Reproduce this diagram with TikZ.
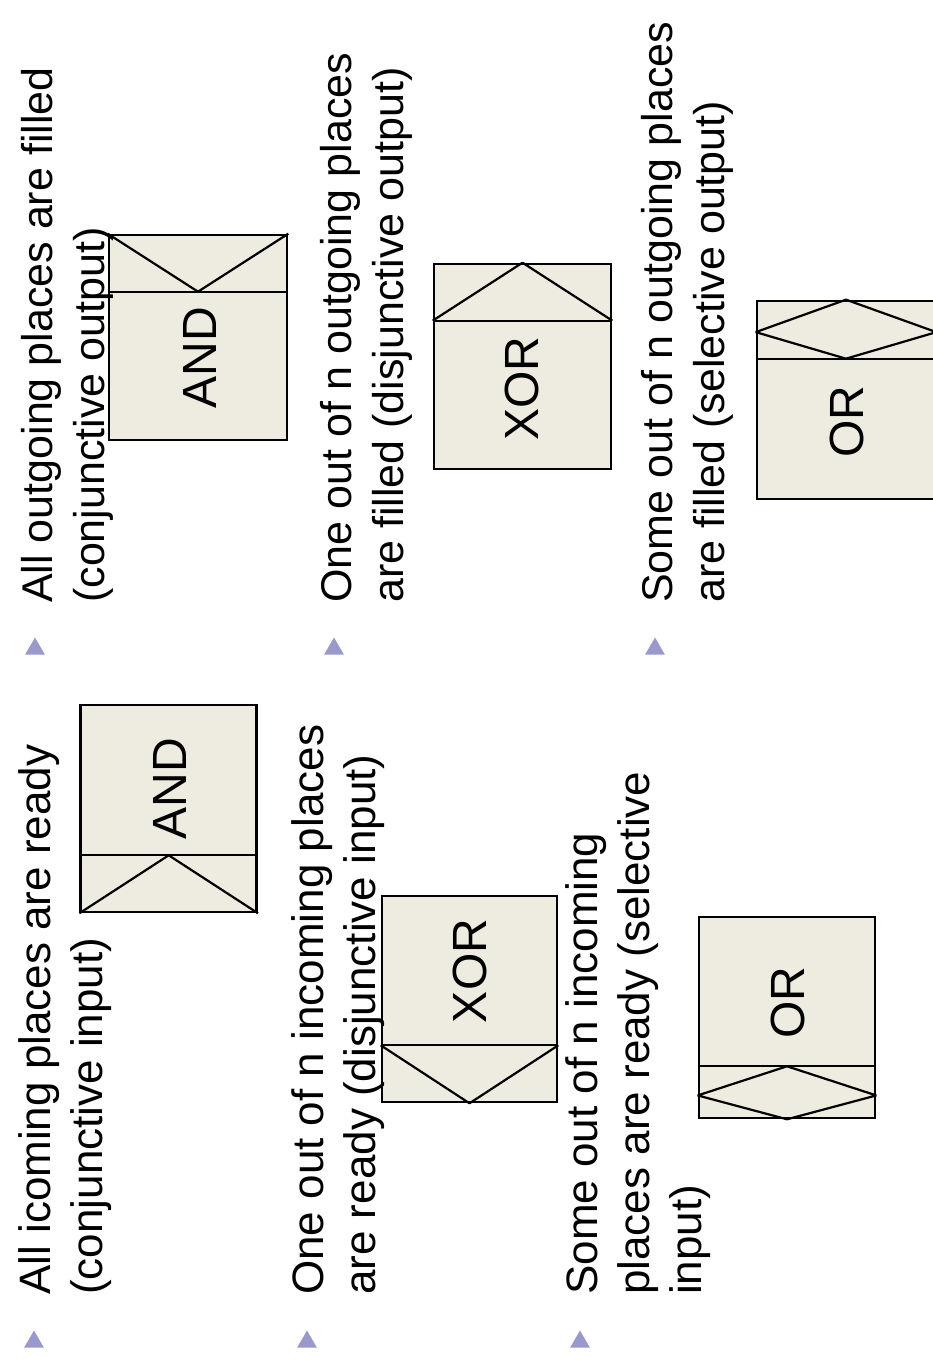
\documentclass[tikz,border=0pt]{standalone}
\usepackage{fontspec}
\setmainfont{Liberation Sans}
\usepackage{tikz}
\usetikzlibrary{positioning, calc, shapes.geometric}

\definecolor{gatefill}{RGB}{238,236,225}
\definecolor{bulletblue}{RGB}{153,153,204}

\begin{document}
\begin{tikzpicture}[
  x=1pt, y=1pt,
  gate/.style={draw, fill=gatefill, line width=2.6pt, minimum width=176pt,
    minimum height=205pt, inner sep=0pt},
  gatelbl/.style={rotate=90, inner sep=0pt, font=\fontsize{48}{58}\selectfont},
  sym/.style={line width=2.2pt, line join=bevel},
  txt/.style={rotate=90, anchor=north west, align=left, inner sep=0pt,
    font=\fontsize{44}{52}\selectfont},
  txtout/.style={txt, font=\fontsize{43}{52}\selectfont},
  bul/.style={regular polygon, regular polygon sides=3, fill=bulletblue,
    minimum size=23pt, inner sep=0pt},
]
  \path[use as bounding box, fill=white] (0,0) rectangle (933,1359);

  % Split/join boxes on the input side
  \node[gate, minimum height=207pt] (in-and) at (168.7,550.5) {};
  \coordinate (in-and-l) at ($(in-and.south west)+(0,58)$);
  \coordinate (in-and-r) at ($(in-and.south east)+(0,58)$);
  \draw[sym] (in-and-l) -- (in-and-r);
  \draw[sym] (in-and.south west) -- ($(in-and-l)!0.5!(in-and-r)$) -- (in-and.south east);
  \node[gatelbl] (in-and-lbl) at (170,570) {AND};

  \node[gate, minimum width=175pt, minimum height=206pt] (in-xor) at (469.5,360) {};
  \coordinate (in-xor-l) at ($(in-xor.south west)+(0,58)$);
  \coordinate (in-xor-r) at ($(in-xor.south east)+(0,58)$);
  \draw[sym] (in-xor-l) -- (in-xor-r);
  \draw[sym] (in-xor-l) -- (in-xor.south) -- (in-xor-r);
  \node[gatelbl] (in-xor-lbl) at (470,388) {XOR};

  \node[gate, minimum height=201pt] (in-or) at (787,341.5) {};
  \coordinate (in-or-l) at ($(in-or.south west)+(0,53)$);
  \coordinate (in-or-r) at ($(in-or.south east)+(0,53)$);
  \draw[sym] (in-or-l) -- (in-or-r);
  \draw[sym] ($(in-or-l)!0.5!(in-or-r)$) -- ($(in-or-l)!0.55!(in-or.south west)$)
    -- (in-or.south) -- ($(in-or-r)!0.55!(in-or.south east)$) -- cycle;
  \node[gatelbl] (in-or-lbl) at (788,356) {OR};

  % Split/join boxes on the output side
  \node[gate, minimum width=178pt] (out-and) at (198,1021.5) {};
  \coordinate (out-and-l) at ($(out-and.north west)+(0,-58)$);
  \coordinate (out-and-r) at ($(out-and.north east)+(0,-58)$);
  \draw[sym] (out-and-l) -- (out-and-r);
  \draw[sym] (out-and.north west) -- ($(out-and-l)!0.5!(out-and-r)$) -- (out-and.north east);
  \node[gatelbl] (out-and-lbl) at (200,1001) {AND};

  \node[gate, minimum width=177pt] (out-xor) at (522.5,992.5) {};
  \coordinate (out-xor-l) at ($(out-xor.north west)+(0,-58)$);
  \coordinate (out-xor-r) at ($(out-xor.north east)+(0,-58)$);
  \draw[sym] (out-xor-l) -- (out-xor-r);
  \draw[sym] (out-xor-l) -- (out-xor.north) -- (out-xor-r);
  \node[gatelbl] (out-xor-lbl) at (522,970) {XOR};

  \node[gate, minimum width=178pt, minimum height=198pt] (out-or) at (846,959) {};
  \coordinate (out-or-l) at ($(out-or.north west)+(0,-59)$);
  \coordinate (out-or-r) at ($(out-or.north east)+(0,-59)$);
  \draw[sym] (out-or-l) -- (out-or-r);
  \draw[sym] (out-or.north) -- ($(out-or.north west)!0.55!(out-or-l)$)
    -- ($(out-or-l)!0.5!(out-or-r)$) -- ($(out-or.north east)!0.55!(out-or-r)$) -- cycle;
  \node[gatelbl] (out-or-lbl) at (847,937) {OR};

  % Bullet texts
  \node[bul] (b-in-and) at (34,17) {};
  \node[txt] (t-in-and) at (13.6,64) {\strut All icoming places are ready\\\strut(conjunctive input)};
  \node[bul] (b-in-xor) at (307,17) {};
  \node[txt] (t-in-xor) at (286.6,64) {\strut One out of n incoming places\\\strut are ready (disjunctive input)};
  \node[bul] (b-in-or) at (580,17) {};
  \node[txt] (t-in-or) at (560.6,64) {\strut Some out of n incoming\\\strut places are ready (selective\\\strut input)};

  \node[bul] (b-out-and) at (35,710) {};
  \node[txtout] (t-out-and) at (15.6,756) {\strut All outgoing places are filled\\\strut(conjunctive output)};
  \node[bul] (b-out-xor) at (334,710) {};
  \node[txtout] (t-out-xor) at (314.6,756) {\strut One out of n outgoing places\\\strut are filled (disjunctive output)};
  \node[bul] (b-out-or) at (655,710) {};
  \node[txtout] (t-out-or) at (635.6,756) {\strut Some out of n outgoing places\\\strut are filled (selective output)};
\end{tikzpicture}
\end{document}
